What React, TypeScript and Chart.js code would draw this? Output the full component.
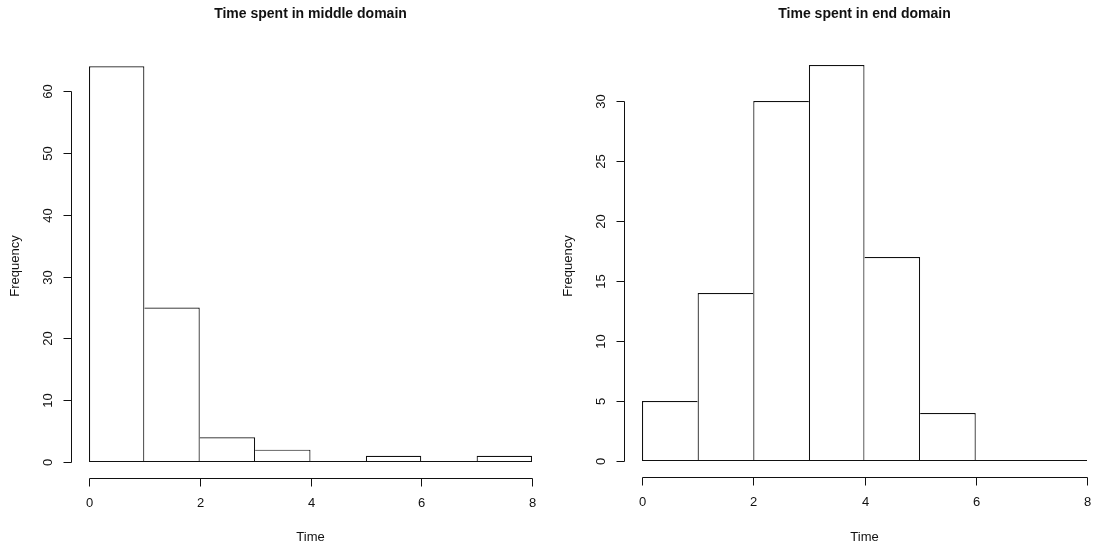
import React, { useEffect, useRef } from "react";
import { Chart, registerables } from "chart.js";

Chart.register(...registerables);

// ---- data ----
const binEdges = [0, 1, 2, 3, 4, 5, 6, 7, 8];
const middleCounts = [64, 25, 4, 2, 0, 1, 0, 1];
const endCounts = [5, 14, 30, 33, 17, 4, 0, 0];
const middleYTicks = [0, 10, 20, 30, 40, 50, 60];
const endYTicks = [0, 5, 10, 15, 20, 25, 30];
const xTicks = [0, 2, 4, 6, 8];
const middleTitle = "Time spent in middle domain";
const endTitle = "Time spent in end domain";
const xTitle = "Time";
const yTitle = "Frequency";

const FONT = "'Liberation Sans', Arial, Helvetica, sans-serif";
const INK = "#111";

const rAxesPlugin = {
  id: "rAxes",
  afterDatasetsDraw(chart: any, _args: any, opts: any) {
    const ctx: CanvasRenderingContext2D = chart.ctx;
    const xs = chart.scales.x;
    const ys = chart.scales.y;
    const px = (v: number) => xs.getPixelForValue(v);
    const py = (v: number) => ys.getPixelForValue(v);
    const crisp = (p: number) => Math.round(p) + 0.5;
    const edges: number[] = opts.edges;
    const xt: number[] = opts.xTicks;
    const yt: number[] = opts.yTicks;

    const line = (x1: number, y1: number, x2: number, y2: number) => {
      ctx.beginPath();
      ctx.moveTo(x1, y1);
      ctx.lineTo(x2, y2);
      ctx.stroke();
    };

    ctx.save();
    ctx.strokeStyle = INK;
    ctx.fillStyle = INK;
    ctx.lineWidth = 1;

    // baseline of the histogram (zero-height bins)
    const yBase = Math.round(py(0)) - 0.5;
    line(px(edges[0]), yBase, px(edges[edges.length - 1]), yBase);

    // x axis (R style, detached)
    const xAxisY = crisp(py(0) + opts.xGap);
    line(crisp(px(xt[0])), xAxisY, crisp(px(xt[xt.length - 1])), xAxisY);
    ctx.font = `13px ${FONT}`;
    ctx.textAlign = "center";
    ctx.textBaseline = "middle";
    xt.forEach((t) => {
      const x = crisp(px(t));
      line(x, xAxisY, x, xAxisY + 8);
      ctx.fillText(String(t), x, xAxisY + 25);
    });
    ctx.fillText(opts.xTitle, (px(xt[0]) + px(xt[xt.length - 1])) / 2, opts.xTitleY);

    // y axis (R style, detached)
    const yAxisX = crisp(px(edges[0]) - opts.yGap);
    line(yAxisX, crisp(py(yt[0])), yAxisX, crisp(py(yt[yt.length - 1])));
    yt.forEach((t) => {
      const y = crisp(py(t));
      line(yAxisX, y, yAxisX - 8, y);
      ctx.save();
      ctx.translate(yAxisX - 23, y);
      ctx.rotate(-Math.PI / 2);
      ctx.fillText(String(t), 0, 0);
      ctx.restore();
    });
    ctx.save();
    ctx.translate(yAxisX - 56, opts.yTitleY);
    ctx.rotate(-Math.PI / 2);
    ctx.fillText(opts.yTitle, 0, 0);
    ctx.restore();

    // main title
    ctx.font = `bold 14px ${FONT}`;
    ctx.fillText(opts.title, (px(edges[0]) + px(edges[edges.length - 1])) / 2, opts.titleY);

    ctx.restore();
  },
};

type HistProps = {
  left: number;
  width: number;
  counts: number[];
  yTicks: number[];
  yMax: number;
  title: string;
  padding: { left: number; right: number; top: number; bottom: number };
};

function Histogram(props: HistProps) {
  const ref = useRef<HTMLCanvasElement | null>(null);

  useEffect(() => {
    if (!ref.current) return;
    const counts = props.counts;
    const data = counts.map((c, i) => ({ x: (binEdges[i] + binEdges[i + 1]) / 2, y: c }));
    const chart = new Chart(ref.current, {
      type: "bar",
      data: {
        datasets: [
          {
            data: data as any,
            backgroundColor: "#ffffff",
            borderColor: INK,
            borderSkipped: false,
            borderWidth: (c: any) => {
              const i = c.dataIndex;
              const v = counts[i];
              const leftB = i === 0 || v > counts[i - 1] ? 1.2 : 0;
              const rightB = i === counts.length - 1 || v >= counts[i + 1] ? 1.2 : 0;
              return { top: 1.2, bottom: 0, left: leftB, right: rightB };
            },
            barPercentage: 1,
            categoryPercentage: 1,
            inflateAmount: 0,
          } as any,
        ],
      },
      options: {
        responsive: false,
        animation: false,
        layout: { padding: props.padding },
        scales: {
          x: { type: "linear", min: binEdges[0], max: binEdges[binEdges.length - 1], display: false, offset: false },
          y: { type: "linear", min: 0, max: props.yMax, display: false },
        },
        plugins: {
          legend: { display: false },
          tooltip: { enabled: false },
          rAxes: {
            edges: binEdges,
            xTicks: xTicks,
            yTicks: props.yTicks,
            title: props.title,
            xTitle: xTitle,
            yTitle: yTitle,
            xGap: 16,
            yGap: 18,
            titleY: 14,
            xTitleY: 537,
            yTitleY: 266,
          },
        } as any,
      },
      plugins: [rAxesPlugin as any],
    });
    return () => chart.destroy();
  }, []);

  return (
    <canvas
      ref={ref}
      width={props.width}
      height={547}
      style={{ position: "absolute", left: props.left, top: 0, width: props.width, height: 547, display: "block" }}
    />
  );
}

export default function App() {
  return (
    <div style={{ position: "absolute", left: 0, top: 0, width: 1097, height: 547, background: "#ffffff", overflow: "hidden" }}>
      <Histogram
        left={0}
        width={549}
        counts={middleCounts}
        yTicks={middleYTicks}
        yMax={70}
        title={middleTitle}
        padding={{ left: 89, right: 17, top: 29.2, bottom: 85 }}
      />
      <Histogram
        left={549}
        width={548}
        counts={endCounts}
        yTicks={endYTicks}
        yMax={36}
        title={endTitle}
        padding={{ left: 93, right: 10, top: 29, bottom: 86 }}
      />
    </div>
  );
}
